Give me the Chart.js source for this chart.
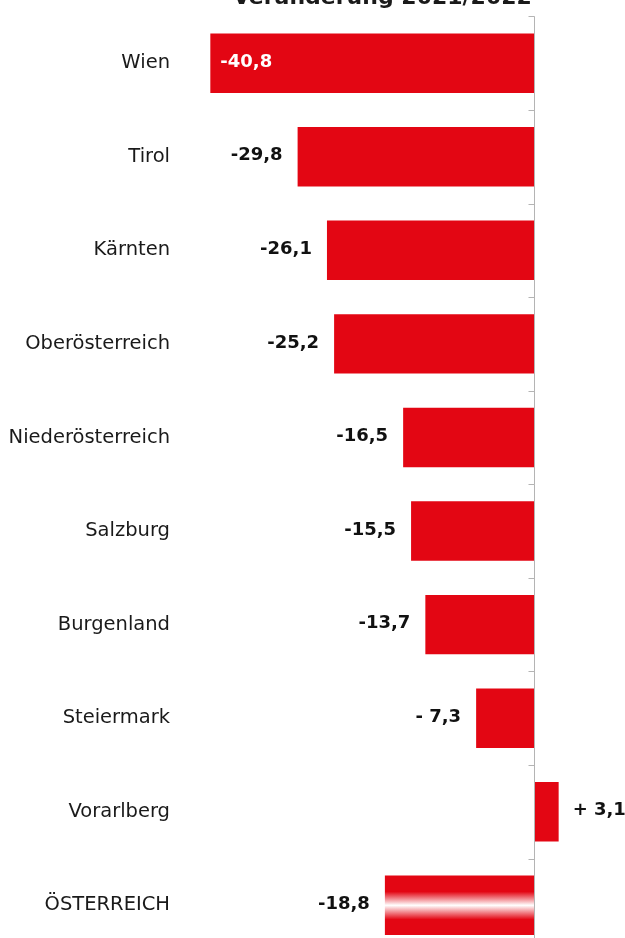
<!DOCTYPE html>
<html>
<head>
<meta charset="utf-8">
<script src="https://cdn.jsdelivr.net/npm/chart.js@4.4.1/dist/chart.umd.min.js"></script>
<style>
  html, body { margin: 0; padding: 0; background: #fff; overflow: hidden; }
  #wrap { position: relative; width: 625px; height: 960px; }
  #title {
    position: absolute; top: -14px; left: 233px; white-space: nowrap;
    font: bold 22px 'DejaVu Sans', sans-serif; line-height: 22px; color: #1a1a1a;
  }
</style>
</head>
<body>
<div id="wrap">
  <canvas id="main-chart" width="625" height="960"></canvas>
  <div id="title">Veränderung 2021/2022</div>
</div>
<script>
const regions = ['Wien','Tirol','Kärnten','Oberösterreich','Niederösterreich','Salzburg','Burgenland','Steiermark','Vorarlberg','ÖSTERREICH'];
const change  = [-40.8, -29.8, -26.1, -25.2, -16.5, -15.5, -13.7, -7.3, 3.1, -18.8];
const xMin = -45, xMax = 10;

const RED = '#E30613';
const BAR_PCT = 0.635;

const fmt = v => {
  const a = Math.abs(v);
  return (v < 0 ? '-' : '+ ') + (v < 0 && a < 10 ? ' ' : '') + a.toFixed(1).replace('.', ',');
};

// Österreich bar: red with a white stripe in the middle
function barColor(ctx) {
  if (ctx.dataIndex !== regions.length - 1) return RED;
  const y = ctx.chart.scales.y;
  if (!y || !y.height) return RED;
  const c = y.getPixelForValue(ctx.dataIndex);
  const half = y.height / regions.length * BAR_PCT / 2;
  const g = ctx.chart.ctx.createLinearGradient(0, c - half, 0, c + half);
  g.addColorStop(0, RED);
  g.addColorStop(0.27, RED);
  g.addColorStop(0.5, '#ffffff');
  g.addColorStop(0.74, RED);
  g.addColorStop(1, RED);
  return g;
}

const axisAndLabels = {
  id: 'axisAndLabels',
  afterDatasetsDraw(chart) {
    const { ctx, chartArea: a, scales: { x, y } } = chart;
    const x0 = Math.round(x.getPixelForValue(0)) + 0.5;
    const step = y.height / regions.length;
    ctx.save();
    ctx.strokeStyle = '#b4b4b4';
    ctx.lineWidth = 1;
    ctx.beginPath();
    ctx.moveTo(x0, a.top); ctx.lineTo(x0, a.bottom);
    for (let i = 0; i <= regions.length; i++) {
      const ty = Math.round(a.top + i * step) + 0.5;
      ctx.moveTo(x0 - 6, ty); ctx.lineTo(x0, ty);
    }
    ctx.stroke();

    ctx.font = 'bold 18px "DejaVu Sans", sans-serif';
    ctx.textBaseline = 'middle';
    chart.getDatasetMeta(0).data.forEach((bar, i) => {
      const v = change[i];
      const t = fmt(v);
      const w = ctx.measureText(t).width;
      const ty = bar.y - 1;
      if (v >= 0) {
        ctx.fillStyle = '#111';
        ctx.textAlign = 'left';
        ctx.fillText(t, bar.x + 14, ty);
      } else if (bar.x - 15 - w < a.left) {
        ctx.fillStyle = '#fff';
        ctx.textAlign = 'left';
        ctx.fillText(t, bar.x + 10, ty);
      } else {
        ctx.fillStyle = '#111';
        ctx.textAlign = 'right';
        ctx.fillText(t, bar.x - 15, ty);
      }
    });
    ctx.restore();
  }
};

new Chart(document.getElementById('main-chart'), {
  type: 'bar',
  data: {
    labels: regions,
    datasets: [{
      data: change,
      backgroundColor: barColor,
      borderWidth: 0,
      barPercentage: BAR_PCT,
      categoryPercentage: 1
    }]
  },
  options: {
    indexAxis: 'y',
    responsive: false,
    animation: false,
    layout: { padding: { top: 16.4, bottom: 7.9, right: 11.6, left: 0 } },
    plugins: { legend: { display: false }, tooltip: { enabled: false } },
    scales: {
      x: { display: false, min: xMin, max: xMax },
      y: {
        afterFit: s => { s.width = 177; s.paddingTop = 0; s.paddingBottom = 0; },
        grid: { display: false, drawTicks: false },
        border: { display: false },
        ticks: { color: '#1a1a1a', padding: 7, font: { family: 'DejaVu Sans', size: 19.5 } }
      }
    }
  },
  plugins: [axisAndLabels]
});
</script>
</body>
</html>
